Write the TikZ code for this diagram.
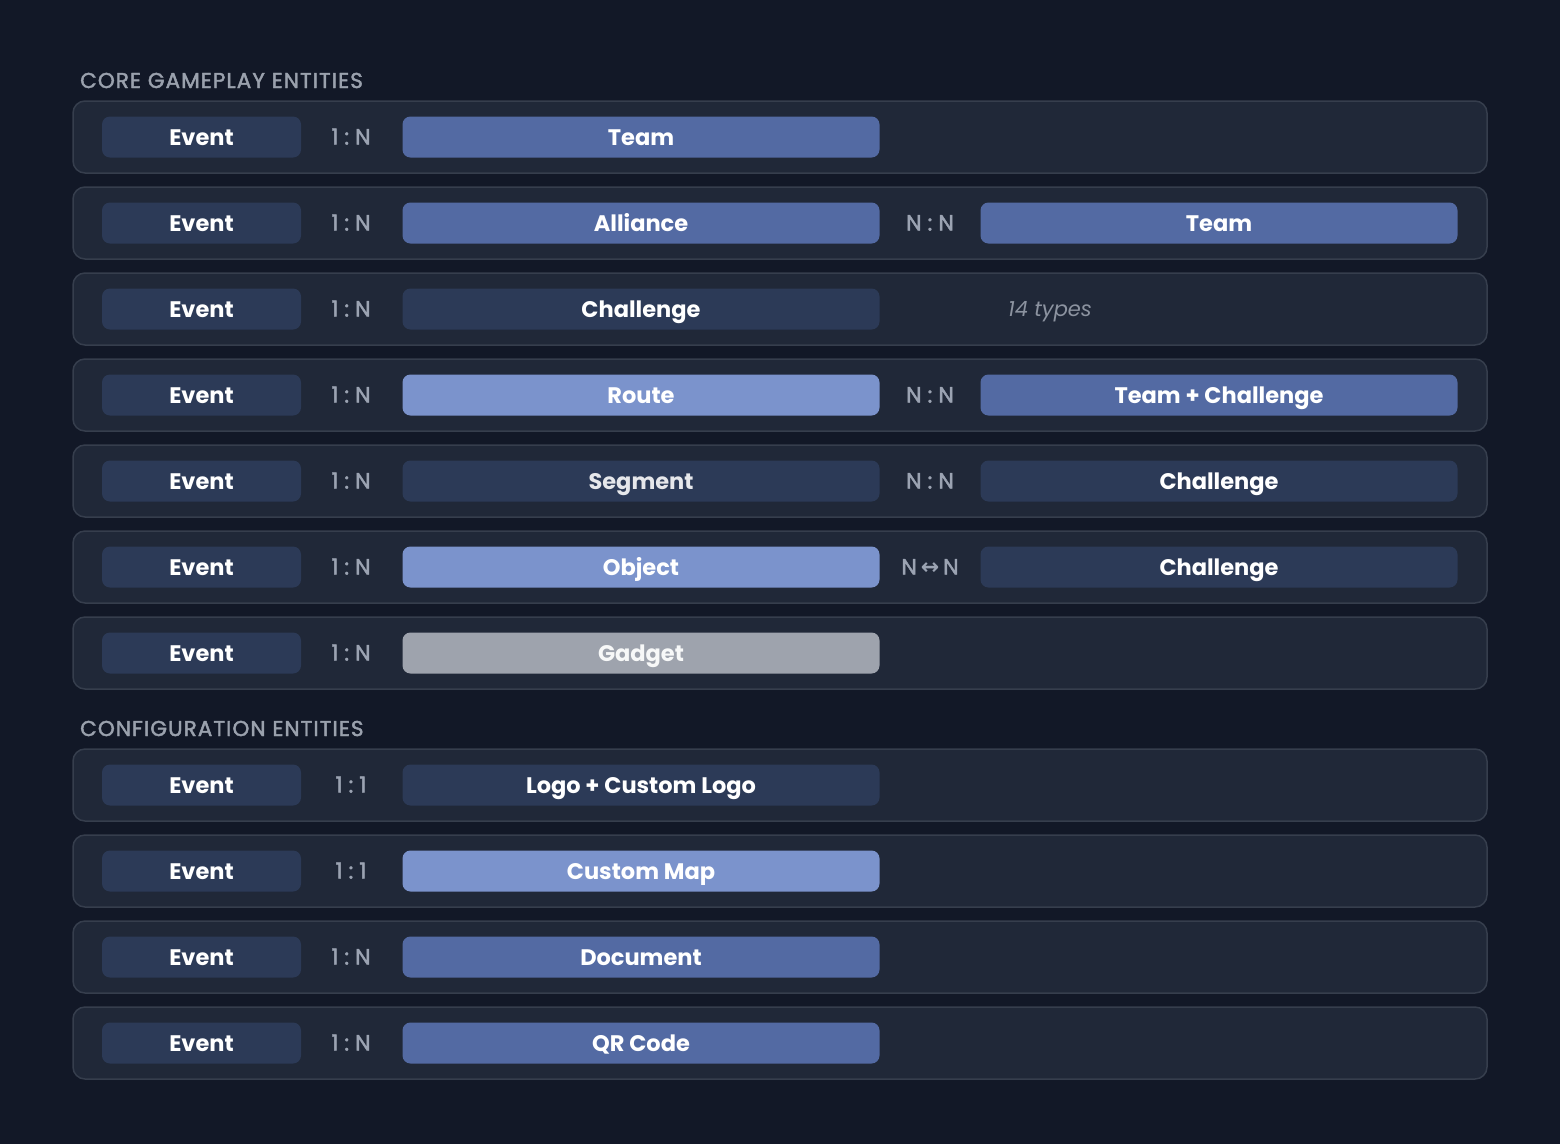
\documentclass[tikz,border=0pt]{standalone}
\usepackage{fontspec}
\setmainfont{Poppins}
\newfontfamily\arrowfont{DejaVu Sans}
\usepackage{tikz}
\usetikzlibrary{backgrounds}
\usepackage{xcolor}
\definecolor{bgcol}{HTML}{121827}
\definecolor{rowfill}{HTML}{202838}
\definecolor{rowline}{HTML}{363E4D}
\definecolor{darkent}{HTML}{2C3A57}
\definecolor{mident}{HTML}{536AA3}
\definecolor{lightent}{HTML}{7B93CC}
\definecolor{grayent}{HTML}{9EA3AD}
\definecolor{ratiotxt}{HTML}{9BA3B2}
\definecolor{titletxt}{HTML}{9AA1AD}
\definecolor{notetxt}{HTML}{8C93A0}

\newcommand{\rsep}{\hspace{6pt}}

\tikzset{
  rowbox/.style={draw=rowline, line width=1.5pt, fill=rowfill, rounded corners=12pt,
    minimum width=1414pt, minimum height=72pt, inner sep=0pt},
  entbox/.style={rounded corners=8pt, minimum height=41pt, inner sep=0pt,
    text height=16pt, text depth=0pt,
    text=white, font=\fontsize{22.5}{26}\selectfont\bfseries},
  srcbox/.style={entbox, fill=darkent, minimum width=199pt},
  wide/.style={entbox, minimum width=477pt},
  ratio/.style={text=ratiotxt, inner sep=0pt, text height=15pt, text depth=0pt,
    font=\fontsize{22}{24}\selectfont\addfontfeature{FakeBold=2}},
  sectitle/.style={anchor=base west, text=titletxt, inner sep=0pt,
    font=\fontsize{21.5}{24}\selectfont\addfontfeature{LetterSpace=5,FakeBold=2}},
}

\begin{document}
\begin{tikzpicture}[x=1pt,y=-1pt]
      \fill[bgcol] (0,0) rectangle (1560,1144);
      \useasboundingbox (0,0) rectangle (1560,1144);

      % core gameplay
      \node[sectitle] (core) at (80,88) {CORE GAMEPLAY ENTITIES};

      % event -> team
      \node[rowbox] (row1) at (780,137) {};
      \node[srcbox] (ev1) at (201.5,137) {Event};
      \node[ratio] (r1) at (351,137) {1\rsep:\rsep N};
      \node[wide, fill=mident] (team1) at (641,137) {Team};

      % event -> alliance -> team
      \node[rowbox] (row2) at (780,223) {};
      \node[srcbox] (ev2) at (201.5,223) {Event};
      \node[ratio] (r2) at (351,223) {1\rsep:\rsep N};
      \node[wide, fill=mident] (alliance) at (641,223) {Alliance};
      \node[ratio] (r2b) at (930,223) {N\rsep:\rsep N};
      \node[wide, fill=mident] (team2) at (1219,223) {Team};

      % event -> challenge
      \node[rowbox] (row3) at (780,309) {};
      \node[srcbox] (ev3) at (201.5,309) {Event};
      \node[ratio] (r3) at (351,309) {1\rsep:\rsep N};
      \node[wide, fill=darkent] (challenge) at (641,309) {Challenge};
      \node[text=notetxt, inner sep=0pt, text height=15pt, text depth=0pt,
        font=\fontsize{21}{24}\selectfont\itshape] (types) at (1050,309) {14 types};

      % event -> route -> team + challenge
      \node[rowbox] (row4) at (780,395) {};
      \node[srcbox] (ev4) at (201.5,395) {Event};
      \node[ratio] (r4) at (351,395) {1\rsep:\rsep N};
      \node[wide, fill=lightent] (route) at (641,395) {Route};
      \node[ratio] (r4b) at (930,395) {N\rsep:\rsep N};
      \node[wide, fill=mident] (teamch) at (1219,395) {Team + Challenge};

      % event -> segment -> challenge
      \node[rowbox] (row5) at (780,481) {};
      \node[srcbox] (ev5) at (201.5,481) {Event};
      \node[ratio] (r5) at (351,481) {1\rsep:\rsep N};
      \node[wide, fill=darkent, text=white!88!darkent] (segment) at (641,481) {Segment};
      \node[ratio] (r5b) at (930,481) {N\rsep:\rsep N};
      \node[wide, fill=darkent] (challenge5) at (1219,481) {Challenge};

      % event -> object -> challenge
      \node[rowbox] (row6) at (780,567) {};
      \node[srcbox] (ev6) at (201.5,567) {Event};
      \node[ratio] (r6) at (351,567) {1\rsep:\rsep N};
      \node[wide, fill=lightent] (object) at (641,567) {Object};
      \node[ratio] (r6b) at (930,567) {N\hspace{4pt}{\arrowfont\bfseries ↔}\hspace{4pt}N};
      \node[wide, fill=darkent] (challenge6) at (1219,567) {Challenge};

      % event -> gadget
      \node[rowbox] (row7) at (780,653) {};
      \node[srcbox] (ev7) at (201.5,653) {Event};
      \node[ratio] (r7) at (351,653) {1\rsep:\rsep N};
      \node[wide, fill=grayent, text=white!92!grayent] (gadget) at (641,653) {Gadget};

      % configuration
      \node[sectitle] (config) at (80,736) {CONFIGURATION ENTITIES};

      % event -> logo
      \node[rowbox] (row8) at (780,785) {};
      \node[srcbox] (ev8) at (201.5,785) {Event};
      \node[ratio] (r8) at (351,785) {1\rsep:\rsep 1};
      \node[wide, fill=darkent] (logo) at (641,785) {Logo + Custom Logo};

      % event -> custom map
      \node[rowbox] (row9) at (780,871) {};
      \node[srcbox] (ev9) at (201.5,871) {Event};
      \node[ratio] (r9) at (351,871) {1\rsep:\rsep 1};
      \node[wide, fill=lightent] (map) at (641,871) {Custom Map};

      % event -> document
      \node[rowbox] (row10) at (780,957) {};
      \node[srcbox] (ev10) at (201.5,957) {Event};
      \node[ratio] (r10) at (351,957) {1\rsep:\rsep N};
      \node[wide, fill=mident] (document) at (641,957) {Document};

      % event -> qr code
      \node[rowbox] (row11) at (780,1043) {};
      \node[srcbox] (ev11) at (201.5,1043) {Event};
      \node[ratio] (r11) at (351,1043) {1\rsep:\rsep N};
      \node[wide, fill=mident] (qrcode) at (641,1043) {QR Code};
    \end{tikzpicture}
\end{document}
